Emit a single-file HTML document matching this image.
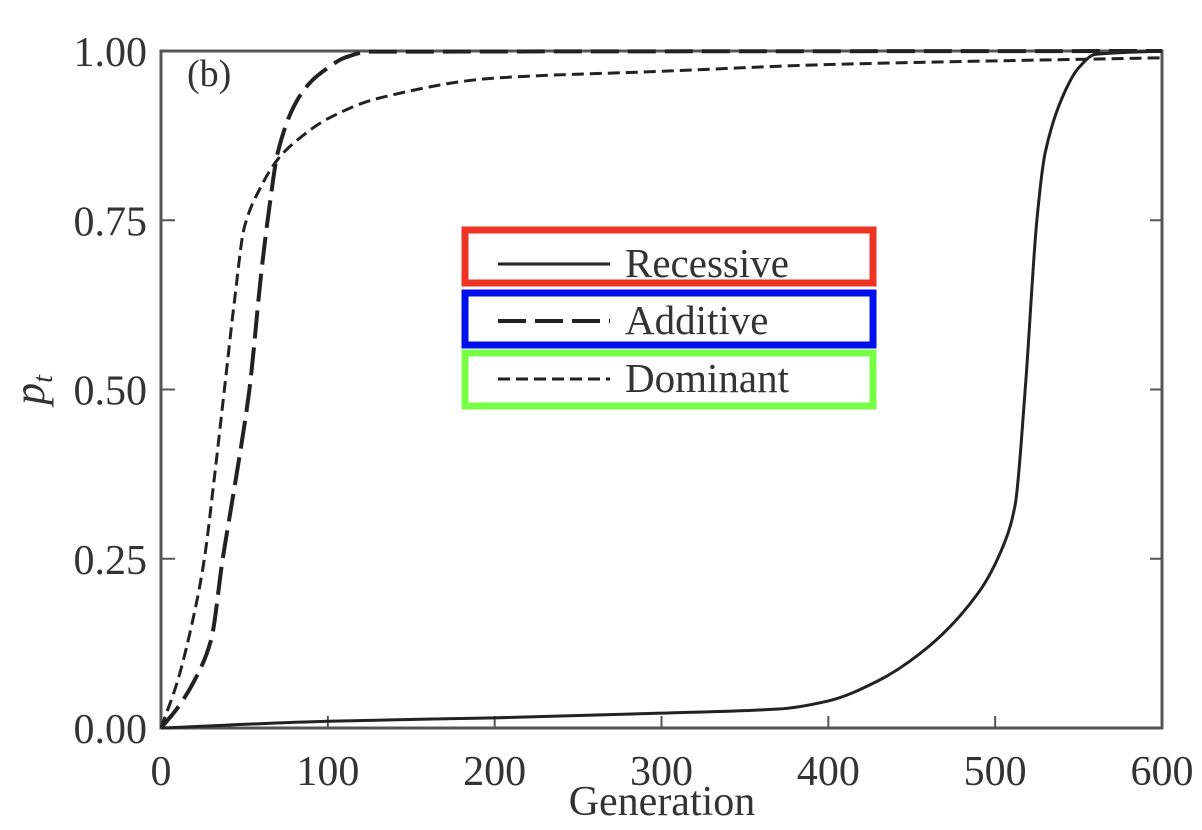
<!DOCTYPE html>
<html><head><meta charset="utf-8"><style>
html,body{margin:0;padding:0;background:#fff;width:1202px;height:830px;overflow:hidden}
svg text{font-family:"Liberation Serif",serif;fill:#333}
</style></head><body>
<svg id="chart" width="1202" height="830" viewBox="0 0 1202 830" xmlns="http://www.w3.org/2000/svg">
<g id="axes"></g>
<g id="series"></g>
<text x="187" y="86" font-size="38">(b)</text>
<text x="662" y="815" font-size="42" text-anchor="middle">Generation</text>
<text transform="translate(44,390) rotate(-90)" font-size="44" font-style="italic" text-anchor="middle">p<tspan font-size="28" dy="8">t</tspan></text>
<g>
<rect x="465" y="230" width="408" height="53" fill="none" stroke="#ee3322" stroke-width="7"/>
<rect x="465" y="293" width="408" height="52" fill="none" stroke="#0011ee" stroke-width="7"/>
<rect x="465" y="353" width="408" height="53" fill="none" stroke="#77ff44" stroke-width="7"/>
<line x1="498" y1="264" x2="610" y2="264" stroke="#222" stroke-width="3"/>
<line x1="498" y1="321" x2="610" y2="321" stroke="#222" stroke-width="4" stroke-dasharray="28,9"/>
<line x1="498" y1="379" x2="610" y2="379" stroke="#222" stroke-width="3" stroke-dasharray="12,6"/>
<text x="625" y="277" font-size="41">Recessive</text>
<text x="625" y="334" font-size="41">Additive</text>
<text x="625" y="392" font-size="41">Dominant</text>
</g>
</svg>
<script>
const xTicks=[0,100,200,300,400,500,600];
const yTicks=[0,0.25,0.5,0.75,1];
const yTickLabels=["0.00","0.25","0.50","0.75","1.00"];
const addGen=[0,10,20,30,37,45,53,60,65,70,80,90,100,110,125,600];
const addP=[0,0.03,0.07,0.13,0.25,0.37,0.5,0.67,0.77,0.85,0.92,0.955,0.975,0.99,0.999,1];
const domGen=[0,10,20,26,32,38,44,50,60,70,80,100,130,200,300,400,600];
const domP=[0,0.07,0.17,0.25,0.37,0.5,0.63,0.74,0.8,0.84,0.865,0.9,0.93,0.96,0.97,0.98,0.99];
const recGen=[0,100,200,300,370,400,430,460,490,505,512,518,525,530,540,550,560,600];
const recP=[0,0.01,0.015,0.022,0.028,0.04,0.07,0.12,0.2,0.27,0.33,0.5,0.75,0.85,0.93,0.975,0.995,1];
const X0=161,X1=1162,Y0=728,Y1=51;
const sx=v=>X0+(X1-X0)*v/600, sy=v=>Y0-(Y0-Y1)*v;
const NS="http://www.w3.org/2000/svg";
const axes=document.getElementById('axes'), ser=document.getElementById('series');
function mk(t,a,p){const e=document.createElementNS(NS,t);for(const k in a)e.setAttribute(k,a[k]);p.appendChild(e);return e;}
const fr=mk('rect',{x:X0,y:Y1,width:X1-X0,height:Y0-Y1,fill:'none',stroke:'#555','stroke-width':3},axes);


xTicks.forEach(v=>{
  const l=mk('line',{x1:sx(v),x2:sx(v),y1:Y0,y2:Y0-12,stroke:'#555','stroke-width':2},axes);
  
  
  const t=mk('text',{x:sx(v),y:Y0+57,'font-size':42,'text-anchor':'middle'},axes);t.textContent=v;
  
  
});
yTicks.forEach((v,i)=>{
  const l=mk('line',{x1:X0,x2:X0+14,y1:sy(v),y2:sy(v),stroke:'#555','stroke-width':2},axes);
  
  
  const r=mk('line',{x1:X1,x2:X1-12,y1:sy(v),y2:sy(v),stroke:'#555','stroke-width':2},axes);
  
  
  const t=mk('text',{x:X0-14,y:sy(v)+15,'font-size':42,'text-anchor':'end'},axes);t.textContent=yTickLabels[i];
  
  
});
// monotone cubic interpolation (Fritsch-Carlson)
function smooth(xs,ys){
  const n=xs.length,X=xs.map(sx),Y=ys.map(sy),dl=[],m=[];
  for(let i=0;i<n-1;i++)dl.push((Y[i+1]-Y[i])/(X[i+1]-X[i]));
  m[0]=dl[0];m[n-1]=dl[n-2];
  for(let i=1;i<n-1;i++)m[i]=(dl[i-1]*dl[i]<=0)?0:2/(1/dl[i-1]+1/dl[i]);
  let d='M'+X[0]+','+Y[0];
  for(let i=0;i<n-1;i++){const h=(X[i+1]-X[i])/3;
    d+=`C${X[i]+h},${Y[i]+m[i]*h} ${X[i+1]-h},${Y[i+1]-m[i+1]*h} ${X[i+1]},${Y[i+1]}`;}
  return d;}
const a=mk('path',{d:smooth(addGen,addP),fill:'none',stroke:'#222','stroke-width':4,'stroke-dasharray':'28,9'},ser);


const d=mk('path',{d:smooth(domGen,domP),fill:'none',stroke:'#222','stroke-width':3,'stroke-dasharray':'12,6'},ser);


const r=mk('path',{d:smooth(recGen,recP),fill:'none',stroke:'#222','stroke-width':3},ser);


</script>
</body></html>
